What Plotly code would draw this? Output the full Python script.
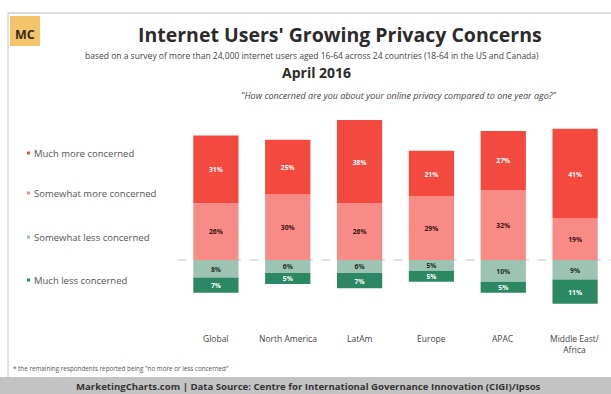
import plotly.graph_objects as go

# Survey results by region (% of respondents)
regions = ["Global", "North America", "LatAm", "Europe", "APAC", "Middle East/<br>Africa"]
much_more = [31, 25, 38, 21, 27, 41]
somewhat_more = [26, 30, 26, 29, 32, 19]
somewhat_less = [8, 6, 6, 5, 10, 9]
much_less = [7, 5, 7, 5, 5, 11]

series_names = ["Much more concerned", "Somewhat more concerned",
                "Somewhat less concerned", "Much less concerned"]
series_colors = ["#F4493F", "#F98B86", "#9DC4B2", "#2B8863"]
label_colors = ["#FFFFFF", "#3A1010", "#1E2E26", "#FFFFFF"]

x = list(range(len(regions)))
bar_w = 0.63
font = "Open Sans"

# plot area: 431 px wide starting at x=180, 201 px tall ending at y=308
L, PW, BOT, PH = 180, 431, 308, 201


def px(xp):
    return (xp - L) / PW


def py(yp):
    return (BOT - yp) / PH


fig = go.Figure()


def add_segment(vals, base, idx):
    fig.add_trace(go.Bar(
        x=x, y=vals, base=base, width=bar_w,
        marker=dict(color=series_colors[idx], line=dict(width=0)),
        text=[f"{abs(v)}%" for v in vals], textposition="inside",
        insidetextanchor="middle",
        textfont=dict(color=label_colors[idx], size=8, family=font, weight="bold"),
        name=series_names[idx]))


# Concern increased: stacked upward from the zero line
add_segment(somewhat_more, [0] * len(x), 1)
add_segment(much_more, somewhat_more, 0)
# Concern decreased: stacked downward from the zero line
add_segment([-v for v in somewhat_less], [0] * len(x), 2)
add_segment([-v for v in much_less], [-v for v in somewhat_less], 3)

shapes = [
    # zero line
    dict(type="line", xref="paper", yref="y", x0=-0.005, x1=1, y0=0, y1=0,
         line=dict(color="#C7C7C7", width=1, dash="dash"), layer="below"),
    # frame lines
    dict(type="line", xref="paper", yref="paper", x0=px(8), x1=1, y0=py(13), y1=py(13),
         line=dict(color="#D0D0D0", width=1.5)),
    dict(type="line", xref="paper", yref="paper", x0=px(8), x1=px(8), y0=py(377), y1=py(13),
         line=dict(color="#D8D8D8", width=1.5)),
    # footer band
    dict(type="rect", xref="paper", yref="paper", x0=px(0), x1=1, y0=py(394), y1=py(377),
         fillcolor="#C3C3C3", line=dict(width=0)),
    # logo tile
    dict(type="rect", xref="paper", yref="paper", x0=px(10), x1=px(40), y0=py(46), y1=py(16),
         fillcolor="#F3C46A", line=dict(width=0)),
]


def note(text, xp, yp, size, color="#444444", bold=False, xanchor="center"):
    return dict(text=text, x=px(xp), y=py(yp), xref="paper", yref="paper",
                xanchor=xanchor, yanchor="middle", showarrow=False,
                font=dict(family=font, size=size, color=color,
                          weight="bold" if bold else "normal"))


annotations = [
    note("MC", 25, 34, 12.5, "#3A2A1A", True),
    note("Internet Users' Growing Privacy Concerns", 340, 34, 19.5, "#2B2B2B", True),
    note("based on a survey of more than 24,000 internet users aged 16-64 across 24 countries "
         "(18-64 in the US and Canada)", 312, 55, 8.5),
    note("April 2016", 316, 72, 14, "#2B2B2B", True),
    note("<i>\"How concerned are you about your online privacy compared to one year ago?\"</i>",
         399, 96, 9),
    note("* the remaining respondents reported being \"no more or less concerned\"",
         11, 368, 6.3, "#555555", xanchor="left"),
    note("MarketingCharts.com | Data Source: Centre for International Governance Innovation "
         "(CIGI)/Ipsos", 308, 386, 9.6, "#333333", True),
]

# Category labels under the bars
for i, r in enumerate(regions):
    annotations.append(dict(text=r, x=i, y=py(331), xref="x", yref="paper",
                            xanchor="center", yanchor="top", showarrow=False,
                            font=dict(family=font, size=8.5, color="#444444")))

# Legend on the left
legend_y = [153, 193, 237, 280]
for name, col, ly in zip(series_names, series_colors, legend_y):
    shapes.append(dict(type="rect", xref="paper", yref="paper",
                       x0=px(27), x1=px(30), y0=py(ly + 1.5), y1=py(ly - 1.5),
                       fillcolor=col, line=dict(width=0)))
    annotations.append(note(name, 32, ly, 9.5, "#555555", xanchor="left"))

fig.update_layout(
    width=611, height=394,
    margin=dict(l=L, r=611 - L - PW, t=BOT - PH, b=394 - BOT),
    paper_bgcolor="white", plot_bgcolor="white",
    barmode="overlay",
    showlegend=False,
    xaxis=dict(range=[-0.5, 5.5], showticklabels=False, showgrid=False, zeroline=False,
               showline=False),
    yaxis=dict(range=[-22, 70], showticklabels=False, showgrid=False, zeroline=False,
               showline=False),
    shapes=shapes,
    annotations=annotations,
    uniformtext=dict(minsize=6, mode="show"),
)

fig.write_html("out.html")
